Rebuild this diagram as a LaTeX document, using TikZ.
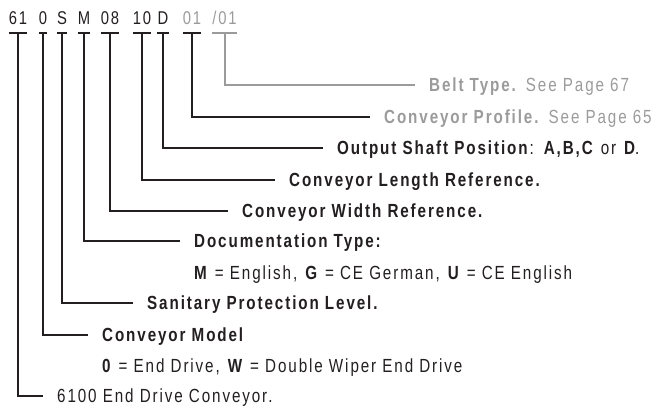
\documentclass[tikz,border=0pt]{standalone}
\usepackage{fontspec}
\setmainfont{Liberation Sans}[FakeStretch=0.8,LetterSpace=10]
\definecolor{InkBlack}{RGB}{35,31,32}
\definecolor{InkGray}{RGB}{155,155,155}
\tikzset{
  code/.style={inner sep=0pt,text height=13pt,text depth=0pt,anchor=base,
    font=\fontsize{18.5}{22}\selectfont},
  lbl/.style={anchor=west,inner xsep=14pt,inner ysep=0pt,text height=13.5pt,
    text depth=0pt,text=InkBlack,font=\fontsize{19}{22}\selectfont},
  wire/.style={draw=InkBlack,line width=2pt},
}

\begin{document}
\begin{tikzpicture}[x=1pt,y=-1pt]
  \useasboundingbox (0,0) rectangle (657,411);
  % part number, one node per field
  \foreach \i/\t/\x/\c in {base/61/18/InkBlack, model/0/43/InkBlack,
      san/S/62/InkBlack, doc/M/84/InkBlack, wid/08/110/InkBlack,
      len/10/142/InkBlack, shaft/D/163/InkBlack, prof/01/192/InkGray,
      belt/{/01}/224.5/InkGray}
    \node[code,text=\c] (c\i) at (\x,24.5) {\t};
  % field descriptions
  \node[lbl,text=InkGray] (lbelt) at (415,85) {\textbf{Belt Type.} See Page 67};
  \node[lbl,text=InkGray] (lprof) at (370,117) {\textbf{Conveyor Profile.} See Page 65};
  \node[lbl] (lshaft) at (323,148)
    {\textbf{Output Shaft Position}: \textbf{A,B,C} or \textbf{D}.};
  \node[lbl] (llen) at (275,180) {\textbf{Conveyor Length Reference.}};
  \node[lbl] (lwid) at (228,211) {\textbf{Conveyor Width Reference.}};
  \node[lbl] (ldoc) at (180,241) {\textbf{Documentation Type:}};
  \node[lbl] (ldocopts) at (ldoc.west |- 0,273)
    {\textbf{M} = English, \textbf{G} = CE German, \textbf{U} = CE English};
  \node[lbl] (lsan) at (133,303) {\textbf{Sanitary Protection Level.}};
  \node[lbl] (lmodel) at (88,335) {\textbf{Conveyor Model}};
  \node[lbl] (lmodelopts) at (lmodel.west |- 0,366)
    {\textbf{0} = End Drive, \textbf{W} = Double Wiper End Drive};
  \node[lbl] (lbase) at (43,396) {6100 End Drive Conveyor.};
  % leaders
  \foreach \i/\c in {base/InkBlack, model/InkBlack, san/InkBlack, doc/InkBlack,
      wid/InkBlack, len/InkBlack, shaft/InkBlack, prof/InkBlack, belt/InkGray}
    \draw[wire,draw=\c] ([yshift=-8pt]c\i.south west) -- ([yshift=-8pt]c\i.south east)
      ([yshift=-8pt]c\i.south) |- (l\i.west);
\end{tikzpicture}
\end{document}
